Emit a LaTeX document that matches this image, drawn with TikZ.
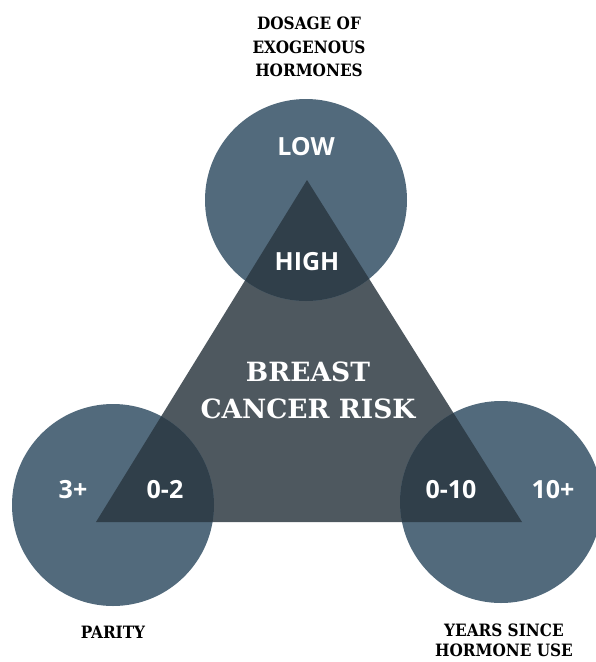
\documentclass[tikz,border=0pt]{standalone}
\usepackage{fontspec}
\setmainfont{DejaVu Serif}
\newfontfamily\factorfont{DejaVu Serif Condensed}
\newfontfamily\levelfont{Open Sans}
\usetikzlibrary{positioning}

\definecolor{circblue}{RGB}{82,106,124}
\definecolor{trigray}{RGB}{78,88,95}
\definecolor{overlap}{RGB}{48,63,74}

\begin{document}
\begin{tikzpicture}[x=1pt,y=-1pt,
    factor/.style={font=\factorfont\bfseries\fontsize{17}{23.5}\selectfont, align=center, text=black},
    level/.style={font=\levelfont\bfseries\fontsize{25}{30}\selectfont, text=white},
    risk/.style={font=\bfseries\fontsize{26.5}{37}\selectfont, align=center, text=white}]
    \useasboundingbox (0,0) rectangle (596,662);

    % Triangle corners and circle centres
    \coordinate (apex) at (307,180);
    \coordinate (bl) at (96,522);
    \coordinate (br) at (522,522);
    \coordinate (dose) at (306,200);
    \coordinate (parity) at (113,505);
    \coordinate (years) at (501,502);

    % Risk triangle
    \fill[trigray] (apex) -- (bl) -- (br) -- cycle;

    % Factor circles
    \fill[circblue] (dose) circle[radius=101pt];
    \fill[circblue] (parity) circle[radius=101pt];
    \fill[circblue] (years) circle[radius=101pt];

    % Where circles and triangle overlap - darker
    \begin{scope}
        \clip (apex) -- (bl) -- (br) -- cycle;
        \fill[overlap] (dose) circle[radius=101pt];
        \fill[overlap] (parity) circle[radius=101pt];
        \fill[overlap] (years) circle[radius=101pt];
    \end{scope}

    % Centre label
    \node[risk] (risk) at (308,390) {BREAST\\CANCER RISK};

    % Levels
    \node[level] (low) at (306,147) {LOW};
    \node[level] (high) at (307,262) {HIGH};
    \node[level] (many) at (73,490) {3+};
    \node[level] (few) at (165,490) {0-2};
    \node[level] (recent) at (451,490) {0-10};
    \node[level] (past) at (553,490) {10+};

    % Factor labels
    \node[factor] (dosage) at (309,47) {DOSAGE OF\\EXOGENOUS\\HORMONES};
    \node[factor] (paritylabel) at (113,632) {PARITY};
    \node[factor, font=\factorfont\bfseries\fontsize{17}{20}\selectfont] (yearslabel) at (504,640) {YEARS SINCE\\HORMONE USE};
\end{tikzpicture}
\end{document}
